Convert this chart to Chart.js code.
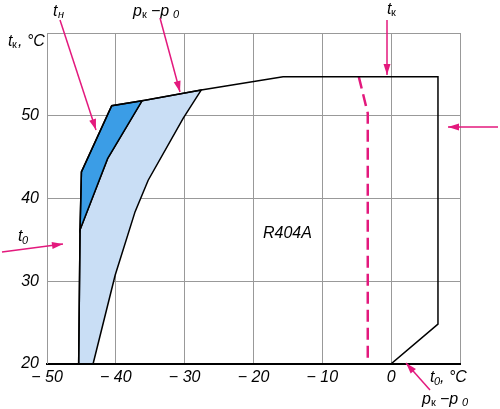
<!DOCTYPE html><html><head><script src="https://cdn.jsdelivr.net/npm/chart.js@4"></script>
<style>body{margin:0;background:#fff}#w{width:500px;height:409px}</style></head><body><div id="w"><canvas id="c"></canvas></div>
<script>
const xTicks=[-50,-40,-30,-20,-10,0];
const yTicks=[20,30,40,50];
const envelope=[[-45.4,20],[-45.2,36.2],[-45.0,43.2],[-40.6,51.2],[-36.2,51.8],[-27.6,53.1],[-15.7,54.7],[6.8,54.7],[6.8,24.8],[0,20],[-45.4,20]];
const darkZone=[[-45.0,43.2],[-40.6,51.2],[-36.2,51.8],[-41.2,44.8],[-45.2,36.2]];
const lightZone=[[-45.2,36.2],[-41.2,44.8],[-36.2,51.8],[-27.6,53.1],[-30.2,49.7],[-35.3,42.2],[-37.2,38.4],[-40.1,30.7],[-43.3,20],[-45.4,20]];
const dashLine=[[-4.7,54.7],[-3.4,50.3],[-3.4,20]];
const pts=a=>a.map(p=>({x:p[0],y:p[1]}));
const MAG='#e3197d';
const zones={id:'zones',beforeDatasetsDraw(ch){const c=ch.ctx,xs=ch.scales.x,ys=ch.scales.y;
 [[lightZone,'#c9def5'],[darkZone,'#3b9de6']].forEach(([z,col])=>{c.beginPath();z.forEach((p,i)=>{const X=xs.getPixelForValue(p[0]),Y=ys.getPixelForValue(p[1]);i?c.lineTo(X,Y):c.moveTo(X,Y);});c.closePath();c.fillStyle=col;c.fill();c.strokeStyle='#000';c.lineWidth=1.5;c.stroke();});}};
function arrow(c,x1,y1,x2,y2){c.strokeStyle=MAG;c.fillStyle=MAG;c.lineWidth=1.5;c.beginPath();c.moveTo(x1,y1);c.lineTo(x2,y2);c.stroke();const a=Math.atan2(y2-y1,x2-x1),L=11,W=3.5;c.beginPath();c.moveTo(x2,y2);c.lineTo(x2-L*Math.cos(a)+W*Math.sin(a),y2-L*Math.sin(a)-W*Math.cos(a));c.lineTo(x2-L*Math.cos(a)-W*Math.sin(a),y2-L*Math.sin(a)+W*Math.cos(a));c.closePath();c.fill();}
const notes={id:'notes',afterDraw(ch){const c=ch.ctx;c.save();c.fillStyle='#000';c.textBaseline='alphabetic';
 const I='italic 16px "Liberation Sans"',S='italic 11px "Liberation Sans"',K='11px "Liberation Sans"';
 c.font=I;c.fillText('t',53,16);c.font=S;c.fillText('н',58,18);
 c.font=I;c.fillText('p',133,16);c.font=K;c.fillText('к',142,18);c.font=I;c.fillText('−p',151,16);c.font=S;c.fillText('0',173,18);
 c.font=I;c.fillText('t',387,14);c.font=K;c.fillText('к',391,16);
 c.font=I;c.fillText('t',8,46);c.font=K;c.fillText('к',12,48);c.font=I;c.fillText(', °C',18,46);
 c.fillText('t',18,241);c.font=S;c.fillText('0',22,244);
 c.font=I;c.fillText('t',430,382);c.font=S;c.fillText('0',434,385);c.font=I;c.fillText(', °C',440,382);
 c.fillText('p',422,404);c.font=K;c.fillText('к',431,406);c.font=I;c.fillText('−p',440,404);c.font=S;c.fillText('0',462,406);
 c.font=I;c.fillText('R404A',263,238);
 arrow(c,60,20,96,130);arrow(c,160,18,180,92);arrow(c,387,20,387,75);arrow(c,498,127,448,127);arrow(c,2,252,63,244);arrow(c,430,390,406,363);
 c.restore();}};
new Chart(document.getElementById('c'),{type:'scatter',
 data:{datasets:[
  {data:pts(envelope),showLine:true,borderColor:'#000',borderWidth:1.5,pointRadius:0,fill:false,tension:0},
  {data:pts(dashLine),showLine:true,borderColor:MAG,borderWidth:2.5,borderDash:[12,6],pointRadius:0,fill:false}]},
 options:{animation:false,responsive:true,maintainAspectRatio:false,
  layout:{padding:{left:0,right:40,top:33,bottom:18}},
  plugins:{legend:{display:false},tooltip:{enabled:false}},
  scales:{
   x:{type:'linear',min:-50,max:10,afterBuildTicks:s=>{s.ticks=[...xTicks,10].map(v=>({value:v}));},
      grid:{color:'#999',lineWidth:1,drawTicks:false},border:{color:'#000',width:2},
      ticks:{color:'#000',font:{family:'Liberation Sans',style:'italic',size:16},padding:4,callback:v=>v===10?'':(v<0?'− '+(-v):String(v)),maxRotation:0}},
   y:{type:'linear',min:20,max:60,afterFit:s=>{s.width=47;},afterBuildTicks:s=>{s.ticks=[...yTicks,60].map(v=>({value:v}));},
      grid:{color:'#999',lineWidth:1,drawTicks:false},border:{color:'#999',width:1},
      ticks:{color:'#000',font:{family:'Liberation Sans',style:'italic',size:16},padding:8,callback:v=>v===60?'':String(v)}}}},
 plugins:[zones,notes]});
</script></body></html>
